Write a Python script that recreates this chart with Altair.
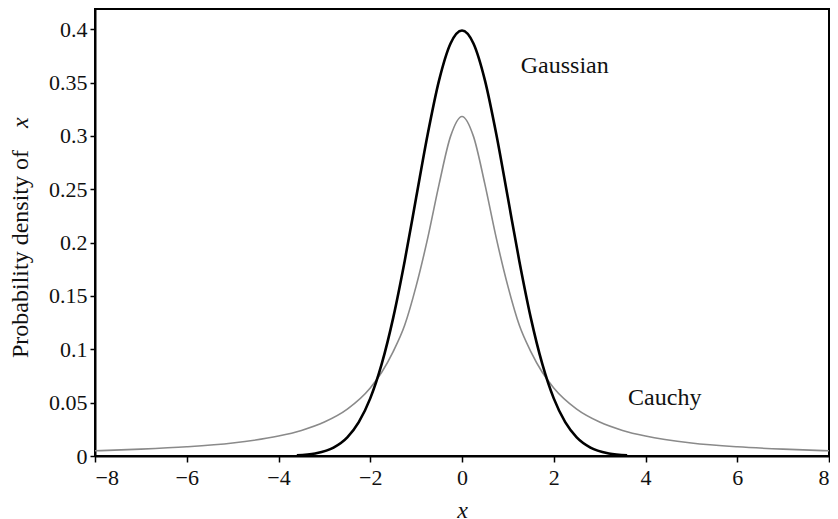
import altair as alt
import pandas as pd

# Gaussian curve
gauss_x = [-3.6, -3.2, -2.8, -2.5, -2.25, -2.0, -1.75, -1.5, -1.25, -1.0, -0.75, -0.5, -0.25, 0.0,
           0.25, 0.5, 0.75, 1.0, 1.25, 1.5, 1.75, 2.0, 2.25, 2.5, 2.8, 3.2, 3.6]
gauss_y = [0.0006, 0.0024, 0.0079, 0.0175, 0.0317, 0.054, 0.0863, 0.1295, 0.1826, 0.242, 0.3011, 0.3521, 0.3867, 0.3989,
           0.3867, 0.3521, 0.3011, 0.242, 0.1826, 0.1295, 0.0863, 0.054, 0.0317, 0.0175, 0.0079, 0.0024, 0.0006]

# Cauchy curve
cauchy_x = [-8, -7, -6, -5, -4, -3.5, -3, -2.5, -2, -1.75, -1.5, -1.25, -1, -0.75, -0.5, -0.25, 0,
            0.25, 0.5, 0.75, 1, 1.25, 1.5, 1.75, 2, 2.5, 3, 3.5, 4, 5, 6, 7, 8]
cauchy_y = [0.0049, 0.0064, 0.0086, 0.0122, 0.0187, 0.0240, 0.0318, 0.0439, 0.0637, 0.0785, 0.0979, 0.1225, 0.1592,
            0.2037, 0.2546, 0.2996, 0.3183,
            0.2996, 0.2546, 0.2037, 0.1592, 0.1225, 0.0979, 0.0785, 0.0637, 0.0439, 0.0318, 0.0240, 0.0187,
            0.0122, 0.0086, 0.0064, 0.0049]

label_text = ["Gaussian", "Cauchy"]
label_x = [1.28, 3.62]
label_y = [0.366, 0.054]

x_ticks = [-8, -6, -4, -2, 0, 2, 4, 6, 8]
y_ticks = [0, 0.05, 0.1, 0.15, 0.2, 0.25, 0.3, 0.35, 0.4]

FONT = "Liberation Serif"

gdf = pd.DataFrame({"x": gauss_x, "y": gauss_y})
cdf = pd.DataFrame({"x": cauchy_x, "y": cauchy_y})
ldf = pd.DataFrame({"x": label_x, "y": label_y, "t": label_text})

xs = alt.Scale(domain=[-8, 8], nice=False, zero=False)
ys = alt.Scale(domain=[0, 0.419], nice=False)

xaxis = alt.Axis(values=x_ticks, format="d", title="x", titleFontStyle="italic",
                 titleFontWeight="normal", titleFontSize=24, titleFont=FONT, titlePadding=10,
                 labelPadding=5, tickSize=6)
yaxis = alt.Axis(values=y_ticks, format="~g", title=None)

cauchy = alt.Chart(cdf).mark_line(color="#8a8a8a", strokeWidth=1.6, interpolate="monotone").encode(
    x=alt.X("x:Q", scale=xs, axis=xaxis),
    y=alt.Y("y:Q", scale=ys, axis=yaxis),
)
gauss = alt.Chart(gdf).mark_line(color="black", strokeWidth=2.6, interpolate="monotone").encode(
    x=alt.X("x:Q", scale=xs),
    y=alt.Y("y:Q", scale=ys),
)
labels = alt.Chart(ldf).mark_text(font=FONT, fontSize=24, align="left", baseline="middle", color="#111").encode(
    x=alt.X("x:Q", scale=xs),
    y=alt.Y("y:Q", scale=ys),
    text="t:N",
)
ylab = alt.Chart(pd.DataFrame({"t": ["Probability density of"]})).mark_text(
    font=FONT, fontSize=24, angle=270, align="left", baseline="middle", color="#111"
).encode(x=alt.value(-74), y=alt.value(349), text="t:N")
ylab_x = alt.Chart(pd.DataFrame({"t": ["x"]})).mark_text(
    font=FONT, fontSize=24, fontStyle="italic", angle=270, align="left", baseline="middle", color="#111"
).encode(x=alt.value(-74), y=alt.value(119), text="t:N")

chart = alt.layer(cauchy, gauss, labels, ylab, ylab_x).properties(
    width=734, height=447,
    background="white",
    autosize=alt.AutoSizeParams(type="none"),
    padding={"left": 87, "top": 1, "right": 1, "bottom": 62},
).configure_view(
    stroke="black", strokeWidth=2
).configure_axis(
    grid=False, domainColor="black", domainWidth=2, tickColor="black", tickWidth=1.5, tickSize=5,
    labelFont=FONT, labelFontSize=22, labelColor="#111", titleColor="#111", labelPadding=3,
)

chart.save("out.html", embed_options={"renderer": "svg", "actions": False})
